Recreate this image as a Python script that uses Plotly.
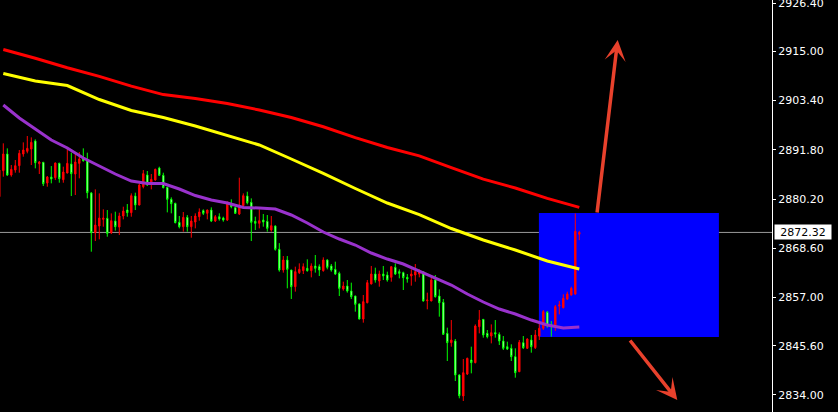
import plotly.graph_objects as go

# ---------------- data ----------------
candle_idx = list(range(-1, 145))
opens = [2880.74, 2886.87, 2890.80, 2885.85, 2887.03, 2888.05, 2890.80, 2891.43, 2891.98, 2893.87,
         2888.52, 2888.84, 2883.97, 2885.38, 2885.22, 2888.60, 2884.75, 2886.32, 2888.44, 2886.09,
         2888.60, 2889.62, 2889.39, 2881.61, 2872.26, 2873.83, 2875.40, 2875.64, 2872.26, 2875.01,
         2873.59, 2876.19, 2877.60, 2876.97, 2880.90, 2878.78, 2883.10, 2885.85, 2883.73, 2884.68,
         2887.50, 2885.78, 2882.95, 2880.12, 2879.17, 2874.70, 2873.67, 2875.87, 2873.67, 2874.77,
         2876.03, 2877.45, 2876.82, 2877.60, 2875.01, 2876.03, 2875.72, 2875.24, 2879.17, 2878.15,
         2876.66, 2878.62, 2880.90, 2879.41, 2874.93, 2874.46, 2875.24, 2874.93, 2872.89, 2873.83,
         2868.34, 2863.46, 2865.82, 2863.46, 2859.53, 2862.84, 2863.31, 2863.86, 2863.31, 2864.41,
         2864.25, 2863.31, 2865.82, 2864.41, 2863.62, 2862.68, 2858.98, 2859.69, 2858.51, 2857.33,
         2855.45, 2851.91, 2855.76, 2860.16, 2862.52, 2860.87, 2862.52, 2862.28, 2861.73, 2864.09,
         2863.07, 2862.84, 2861.73, 2862.05, 2862.28, 2862.52, 2863.07, 2856.23, 2856.16, 2861.10,
         2857.33, 2855.84, 2848.53, 2846.33, 2846.72, 2838.71, 2833.76, 2838.94, 2842.25, 2841.62,
         2850.10, 2851.83, 2848.53, 2847.90, 2848.69, 2848.30, 2846.72, 2845.39, 2845.00, 2843.03,
         2839.49, 2846.33, 2845.00, 2846.96, 2845.15, 2847.90, 2849.71, 2853.48, 2850.65, 2850.10,
         2854.98, 2854.58, 2856.63, 2857.57, 2857.80, 2871.90]
highs = [2888.60, 2893.32, 2892.14, 2888.21, 2889.39, 2891.75, 2893.55, 2895.05, 2894.73, 2894.26,
         2889.15, 2888.95, 2885.62, 2887.97, 2888.80, 2888.76, 2887.82, 2892.14, 2891.12, 2890.80,
         2891.27, 2892.14, 2891.12, 2881.84, 2882.47, 2881.53, 2877.76, 2877.60, 2876.81, 2877.21,
         2876.97, 2878.39, 2879.02, 2881.53, 2881.69, 2883.89, 2887.03, 2886.80, 2886.09, 2887.35,
         2887.82, 2886.40, 2883.10, 2880.59, 2879.33, 2876.19, 2877.13, 2876.42, 2876.19, 2876.82,
         2877.99, 2877.76, 2877.70, 2878.23, 2876.42, 2876.82, 2876.03, 2879.65, 2880.12, 2878.39,
         2885.22, 2881.53, 2881.92, 2880.35, 2876.03, 2877.76, 2876.66, 2876.42, 2876.19, 2873.99,
         2869.80, 2866.76, 2866.76, 2863.50, 2864.25, 2865.03, 2865.03, 2865.98, 2865.03, 2867.00,
         2864.80, 2866.45, 2865.98, 2864.88, 2865.43, 2863.07, 2860.71, 2861.10, 2860.48, 2857.40,
         2855.60, 2857.57, 2861.10, 2864.41, 2864.01, 2863.31, 2864.41, 2863.07, 2864.30, 2865.03,
         2863.62, 2863.07, 2862.52, 2863.62, 2864.88, 2863.62, 2863.10, 2858.12, 2861.73, 2862.28,
         2858.90, 2856.63, 2849.87, 2851.67, 2847.20, 2838.87, 2842.48, 2842.80, 2845.39, 2850.65,
         2854.03, 2851.90, 2849.32, 2850.65, 2851.67, 2848.77, 2847.90, 2846.57, 2845.94, 2845.00,
         2846.96, 2847.90, 2847.35, 2848.14, 2849.32, 2850.89, 2854.03, 2853.80, 2851.44, 2855.21,
         2856.15, 2857.73, 2858.35, 2859.53, 2876.80, 2872.70]
lows = [2880.35, 2885.46, 2885.62, 2885.46, 2886.40, 2886.40, 2890.17, 2890.96, 2888.21, 2887.42,
        2886.09, 2883.26, 2883.10, 2883.89, 2884.67, 2884.04, 2884.04, 2886.25, 2880.90, 2881.14,
        2885.07, 2889.00, 2880.35, 2867.78, 2870.29, 2870.69, 2873.67, 2871.31, 2871.94, 2872.73,
        2871.71, 2875.40, 2876.03, 2876.03, 2877.60, 2878.70, 2882.71, 2883.26, 2882.47, 2884.52,
        2885.62, 2882.71, 2877.05, 2876.82, 2874.46, 2873.28, 2872.50, 2872.50, 2871.08, 2873.28,
        2875.09, 2876.42, 2875.40, 2874.77, 2874.77, 2875.09, 2874.85, 2875.01, 2878.00, 2876.66,
        2876.42, 2878.39, 2878.94, 2870.29, 2872.89, 2873.28, 2873.67, 2872.50, 2872.50, 2868.02,
        2863.07, 2862.84, 2859.14, 2856.63, 2858.36, 2862.52, 2862.52, 2863.07, 2861.73, 2862.84,
        2862.05, 2863.07, 2863.62, 2863.07, 2862.28, 2857.33, 2858.59, 2858.12, 2856.63, 2853.64,
        2851.80, 2851.05, 2855.60, 2860.10, 2860.48, 2859.53, 2861.10, 2860.71, 2860.71, 2862.28,
        2861.50, 2858.75, 2860.48, 2859.77, 2860.71, 2861.73, 2856.00, 2854.19, 2856.10, 2856.94,
        2852.46, 2848.14, 2842.01, 2845.39, 2837.29, 2833.21, 2832.58, 2838.71, 2839.10, 2841.46,
        2848.53, 2847.51, 2847.35, 2846.17, 2847.51, 2845.78, 2844.60, 2844.60, 2842.01, 2838.08,
        2839.40, 2844.84, 2844.84, 2843.97, 2844.84, 2846.96, 2849.32, 2849.87, 2847.75, 2849.08,
        2853.01, 2854.42, 2856.39, 2857.41, 2857.60, 2870.50]
closes = [2887.03, 2890.80, 2885.85, 2887.19, 2888.05, 2890.96, 2891.75, 2892.14, 2893.55, 2888.76,
          2888.92, 2883.81, 2885.38, 2884.91, 2888.68, 2884.99, 2886.56, 2888.60, 2886.17, 2888.92,
          2889.62, 2889.23, 2881.69, 2872.26, 2874.06, 2875.71, 2875.71, 2872.10, 2875.09, 2873.67,
          2876.19, 2877.37, 2876.97, 2880.98, 2878.78, 2883.49, 2886.17, 2883.50, 2884.83, 2887.19,
          2885.78, 2882.87, 2880.12, 2879.10, 2874.62, 2873.67, 2875.87, 2873.67, 2875.01, 2876.19,
          2877.13, 2876.82, 2877.60, 2875.01, 2876.03, 2875.48, 2875.24, 2879.17, 2878.39, 2876.82,
          2878.78, 2880.98, 2879.33, 2874.70, 2874.46, 2875.09, 2874.77, 2873.28, 2873.91, 2868.33,
          2863.46, 2865.82, 2863.62, 2859.53, 2863.07, 2863.62, 2864.25, 2863.31, 2864.41, 2863.86,
          2863.46, 2865.82, 2864.09, 2863.46, 2862.52, 2859.14, 2859.69, 2858.51, 2857.18, 2855.37,
          2851.91, 2856.00, 2860.48, 2862.52, 2861.10, 2862.52, 2862.05, 2861.10, 2864.25, 2862.52,
          2862.68, 2861.66, 2861.34, 2862.52, 2863.07, 2863.07, 2856.16, 2856.39, 2861.10, 2857.18,
          2855.76, 2848.30, 2846.33, 2846.96, 2838.71, 2833.84, 2839.26, 2842.64, 2841.62, 2850.26,
          2851.67, 2848.14, 2847.75, 2848.69, 2848.37, 2846.72, 2845.00, 2844.84, 2843.03, 2839.26,
          2846.41, 2845.15, 2847.20, 2845.39, 2848.14, 2849.71, 2853.64, 2850.26, 2850.10, 2854.82,
          2855.21, 2856.78, 2857.80, 2859.14, 2872.60, 2872.32]

ma_slow_idx = list(range(0, 145, 8))
ma_red = [2915.44, 2913.39, 2911.15, 2909.10, 2906.81, 2904.81, 2903.91, 2902.73, 2901.18, 2899.41,
          2897.24, 2894.67, 2892.34, 2890.38, 2887.60, 2884.87, 2882.79, 2880.36, 2878.24]
ma_yellow = [2909.78, 2908.02, 2906.95, 2903.65, 2901.06, 2899.41, 2897.41, 2895.17, 2892.93, 2889.63,
             2886.26, 2882.67, 2879.25, 2876.54, 2873.24, 2870.53, 2868.17, 2865.58, 2863.70]
ma_fast_idx = list(range(0, 145, 4))
ma_purple = [2902.36, 2899.29, 2896.70, 2894.11, 2892.22, 2889.86, 2887.98, 2886.09, 2884.44, 2883.85,
             2883.85, 2882.56, 2881.02, 2879.96, 2879.25, 2878.19, 2878.08, 2877.84, 2876.43, 2874.54,
             2872.42, 2870.77, 2869.35, 2867.47, 2866.05, 2864.87, 2863.22, 2861.57, 2859.92, 2857.80,
             2855.92, 2854.27, 2853.09, 2851.67, 2850.49, 2849.79, 2850.02]

y_tickvals = [2926.40, 2915.00, 2903.40, 2891.80, 2880.20, 2868.60, 2857.00, 2845.60, 2834.00]
y_ticktext = ["2926.40", "2915.00", "2903.40", "2891.80", "2880.20", "2868.60", "2857.00", "2845.60", "2834.00"]
current_price = 2872.32

# decorations (data coordinates)
box_x = [133.9, 178.9]
box_y = [2847.67, 2876.90]
arrow_up = dict(tail=(148.4, 2876.66), tip=(153.6, 2917.68))
arrow_down = dict(tail=(156.4, 2847.19), tip=(168.5, 2832.81))

x_range = [-0.825, 192.175]
y_range = [2829.99, 2927.11]

# ---------------- figure ----------------
fig = go.Figure()

fig.add_trace(go.Scatter(x=ma_slow_idx, y=ma_red, mode="lines",
                         line=dict(color="#FF0000", width=3), hoverinfo="skip"))
fig.add_trace(go.Scatter(x=ma_slow_idx, y=ma_yellow, mode="lines",
                         line=dict(color="#FFFF00", width=3), hoverinfo="skip"))
fig.add_trace(go.Scatter(x=ma_fast_idx, y=ma_purple, mode="lines",
                         line=dict(color="#9932CC", width=3), hoverinfo="skip"))

fig.add_trace(go.Candlestick(
    x=candle_idx, open=opens, high=highs, low=lows, close=closes,
    increasing=dict(line=dict(color="#FF0000", width=1), fillcolor="#FF0000"),
    decreasing=dict(line=dict(color="#00FF00", width=1), fillcolor="#FFFFFF"),
    whiskerwidth=0,
))

shapes = [
    dict(type="rect", xref="x", yref="y", x0=box_x[0], x1=box_x[1], y0=box_y[0], y1=box_y[1],
         fillcolor="#0000FF", line=dict(width=0), layer="below"),
    dict(type="line", xref="paper", yref="y", x0=0, x1=1, y0=current_price, y1=current_price,
         line=dict(color="#9A9A9A", width=1), layer="below"),
]

arrow_color = "#E8412C"
annotations = []
for a in (arrow_up, arrow_down):
    annotations.append(dict(
        x=a["tip"][0], y=a["tip"][1], xref="x", yref="y",
        ax=a["tail"][0], ay=a["tail"][1], axref="x", ayref="y",
        text="", showarrow=True, arrowhead=3, arrowsize=1.0, arrowwidth=3.5,
        arrowcolor=arrow_color, standoff=0, startstandoff=0,
    ))
annotations.append(dict(
    x=1, xref="paper", xanchor="left", xshift=2, y=current_price, yref="y", yanchor="middle",
    text="2872.32", showarrow=False, bgcolor="#FFFFFF", borderpad=0,
    width=56, height=14, align="center",
    font=dict(family="DejaVu Sans", size=11, color="#000000"),
))

fig.update_layout(
    width=838, height=412,
    margin=dict(l=0, r=66, t=0, b=0, pad=0, autoexpand=False),
    paper_bgcolor="#000000", plot_bgcolor="#000000",
    showlegend=False, boxgap=0.5,
    shapes=shapes, annotations=annotations,
    xaxis=dict(range=x_range, visible=False, showgrid=False, zeroline=False,
               rangeslider=dict(visible=False)),
    yaxis=dict(range=y_range, side="right", showgrid=False, zeroline=False,
               tickvals=y_tickvals, ticktext=y_ticktext, ticks="outside", ticklen=3,
               tickcolor="#FFFFFF", showline=True, linecolor="#FFFFFF", linewidth=1,
               ticklabeloverflow="allow",
               tickfont=dict(family="DejaVu Sans", size=11, color="#FFFFFF")),
)

fig.write_html("out.html", config={"displayModeBar": False},
               post_script="document.body.style.margin='0';document.body.style.background='#000';")
